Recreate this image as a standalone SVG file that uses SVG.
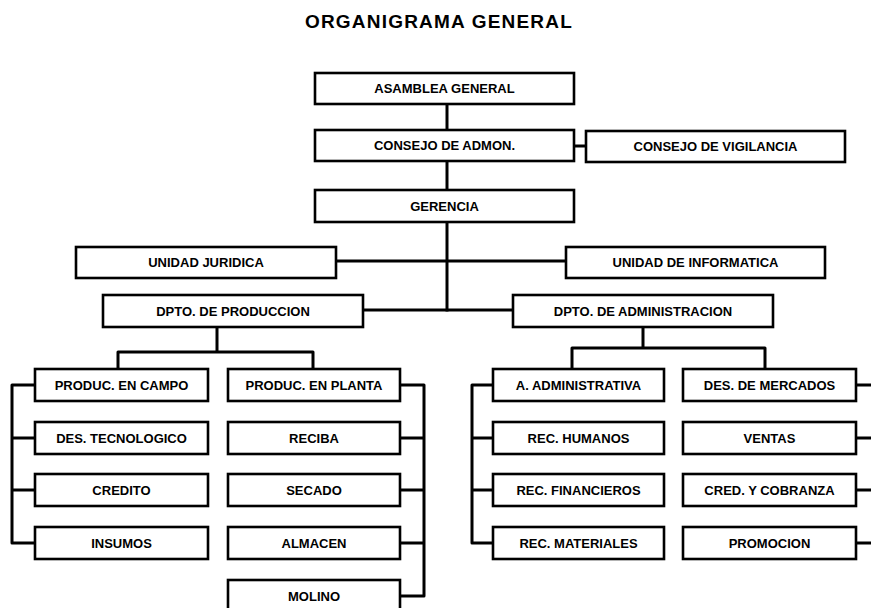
<svg xmlns="http://www.w3.org/2000/svg" width="871" height="608" viewBox="0 0 871 608">
  <style>
    .box { fill: #ffffff; stroke: #000000; stroke-width: 2.6; }
    .lbl { font-family: "Liberation Sans", Arial, sans-serif; font-weight: bold; font-size: 13px; fill: #000000; text-anchor: middle; }
    .title { font-family: "Liberation Sans", Arial, sans-serif; font-weight: bold; font-size: 19px; letter-spacing: 1.2px; fill: #000000; text-anchor: middle; }
    .wire { fill: none; stroke: #000000; stroke-width: 3; stroke-linejoin: round; stroke-linecap: square; }
  </style>

  <rect width="871" height="608" fill="#ffffff"/>

  <text class="title" x="439" y="28">ORGANIGRAMA GENERAL</text>

  <!-- connectors -->
  <g id="connectors">
    <!-- main spine -->
    <path class="wire" d="M447 104 V310"/>
    <path class="wire" d="M574 146 H586"/>
    <path class="wire" d="M336 261 H566"/>
    <path class="wire" d="M363 310 H513"/>
    <!-- production department -->
    <path class="wire" d="M217 327 V352 M118 369 V352 H313 V369"/>
    <path class="wire" d="M35 385 H12 V543 H35 M12 438 H35 M12 490 H35"/>
    <path class="wire" d="M400 385 H424 V596 H400 M424 438 H400 M424 490 H400 M424 543 H400"/>
    <!-- administration department -->
    <path class="wire" d="M643 327 V348 M572 369 V348 H765 V369"/>
    <path class="wire" d="M493 385 H472 V543 H493 M472 438 H493 M472 490 H493"/>
    <path class="wire" d="M856 385 H873 M856 438 H873 M856 490 H873 M856 543 H873"/>
  </g>

  <g id="asamblea"><rect class="box" x="315" y="73" width="259" height="31"/><text class="lbl" x="444.5" y="93">ASAMBLEA GENERAL</text></g>
  <g id="consejo-admon"><rect class="box" x="315" y="130" width="259" height="31"/><text class="lbl" x="444.5" y="150">CONSEJO DE ADMON.</text></g>
  <g id="consejo-vigilancia"><rect class="box" x="586" y="131" width="259" height="31"/><text class="lbl" x="715.5" y="151">CONSEJO DE VIGILANCIA</text></g>
  <g id="gerencia"><rect class="box" x="315" y="190" width="259" height="32"/><text class="lbl" x="444.5" y="210.5">GERENCIA</text></g>

  <g id="unidad-juridica"><rect class="box" x="76" y="247" width="260" height="31"/><text class="lbl" x="206" y="267">UNIDAD JURIDICA</text></g>
  <g id="unidad-informatica"><rect class="box" x="566" y="247" width="259" height="31"/><text class="lbl" x="695.5" y="267">UNIDAD DE INFORMATICA</text></g>

  <g id="dpto-produccion"><rect class="box" x="103" y="295" width="260" height="32"/><text class="lbl" x="233" y="315.5">DPTO. DE PRODUCCION</text></g>
  <g id="dpto-administracion"><rect class="box" x="513" y="295" width="260" height="32"/><text class="lbl" x="643" y="315.5">DPTO. DE ADMINISTRACION</text></g>

  <!-- production: field column -->
  <g id="produc-campo"><rect class="box" x="35" y="369" width="173" height="32"/><text class="lbl" x="121.5" y="389.5">PRODUC. EN CAMPO</text></g>
  <g id="des-tecnologico"><rect class="box" x="35" y="422" width="173" height="32"/><text class="lbl" x="121.5" y="442.5">DES. TECNOLOGICO</text></g>
  <g id="credito"><rect class="box" x="35" y="474" width="173" height="32"/><text class="lbl" x="121.5" y="494.5">CREDITO</text></g>
  <g id="insumos"><rect class="box" x="35" y="527" width="173" height="32"/><text class="lbl" x="121.5" y="547.5">INSUMOS</text></g>

  <!-- production: plant column -->
  <g id="produc-planta"><rect class="box" x="228" y="369" width="172" height="32"/><text class="lbl" x="314" y="389.5">PRODUC. EN PLANTA</text></g>
  <g id="reciba"><rect class="box" x="228" y="422" width="172" height="32"/><text class="lbl" x="314" y="442.5">RECIBA</text></g>
  <g id="secado"><rect class="box" x="228" y="474" width="172" height="32"/><text class="lbl" x="314" y="494.5">SECADO</text></g>
  <g id="almacen"><rect class="box" x="228" y="527" width="172" height="32"/><text class="lbl" x="314" y="547.5">ALMACEN</text></g>
  <g id="molino"><rect class="box" x="228" y="580" width="172" height="32"/><text class="lbl" x="314" y="600.5">MOLINO</text></g>

  <!-- administration: admin column -->
  <g id="a-administrativa"><rect class="box" x="493" y="369" width="171" height="32"/><text class="lbl" x="578.5" y="389.5">A. ADMINISTRATIVA</text></g>
  <g id="rec-humanos"><rect class="box" x="493" y="422" width="171" height="32"/><text class="lbl" x="578.5" y="442.5">REC. HUMANOS</text></g>
  <g id="rec-financieros"><rect class="box" x="493" y="474" width="171" height="32"/><text class="lbl" x="578.5" y="494.5">REC. FINANCIEROS</text></g>
  <g id="rec-materiales"><rect class="box" x="493" y="527" width="171" height="32"/><text class="lbl" x="578.5" y="547.5">REC. MATERIALES</text></g>

  <!-- administration: market column -->
  <g id="des-mercados"><rect class="box" x="683" y="369" width="173" height="32"/><text class="lbl" x="769.5" y="389.5">DES. DE MERCADOS</text></g>
  <g id="ventas"><rect class="box" x="683" y="422" width="173" height="32"/><text class="lbl" x="769.5" y="442.5">VENTAS</text></g>
  <g id="cred-cobranza"><rect class="box" x="683" y="474" width="173" height="32"/><text class="lbl" x="769.5" y="494.5">CRED. Y COBRANZA</text></g>
  <g id="promocion"><rect class="box" x="683" y="527" width="173" height="32"/><text class="lbl" x="769.5" y="547.5">PROMOCION</text></g>
</svg>
